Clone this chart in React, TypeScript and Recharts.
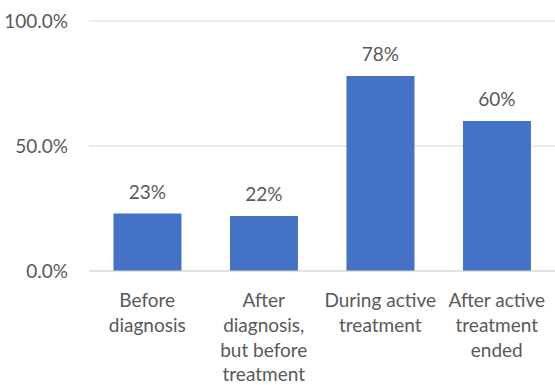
import React from "react";
import { BarChart, Bar, XAxis, YAxis, CartesianGrid, LabelList } from "recharts";

const categories = [
  "Before\ndiagnosis",
  "After\ndiagnosis,\nbut before\ntreatment",
  "During active\ntreatment",
  "After active\ntreatment\nended",
];
const values = [23, 22, 78, 60];
const yTicks = [0, 50, 100];

const data = categories.map((c, i) => ({ name: c, value: values[i] }));

const FONT = "Lato, 'Open Sans', sans-serif";
const TEXT = "#595959";
const FS = 19;

const XTick = (props: any) => {
  const { x, y, payload } = props;
  const lines = String(payload.value).split("\n");
  return (
    <text x={x} y={y} textAnchor="middle" fill={TEXT} fontFamily={FONT} fontSize={FS}>
      {lines.map((l: string, i: number) => (
        <tspan key={i} x={x} dy={i === 0 ? 36 : 24.8}>
          {l}
        </tspan>
      ))}
    </text>
  );
};

export default function App() {
  return (
    <div style={{ position: "absolute", left: 0, top: 0, width: 555, height: 385, background: "#fff" }}>
      <BarChart
        width={555}
        height={385}
        data={data}
        margin={{ top: 21, right: 0, bottom: 0, left: 0 }}
        barCategoryGap="21%"
      >
        <CartesianGrid vertical={false} stroke="#d9d9d9" strokeWidth={1} />
        <XAxis
          dataKey="name"
          height={114}
          axisLine={{ stroke: "#d9d9d9" }}
          tickLine={false}
          tickSize={0}
          tickMargin={0}
          interval={0}
          tick={<XTick />}
        />
        <YAxis
          width={89}
          domain={[0, 100]}
          ticks={yTicks}
          axisLine={false}
          tickLine={false}
          tickSize={0}
          tickMargin={21}
          tickFormatter={(v: number) => `${v.toFixed(1)}%`}
          tick={{ fill: TEXT, fontFamily: FONT, fontSize: FS }}
        />
        <Bar dataKey="value" fill="#4472C4" isAnimationActive={false}>
          <LabelList
            dataKey="value"
            position="top"
            offset={15}
            formatter={(v: any) => `${v}%`}
            fill={TEXT}
            fontFamily={FONT}
            fontSize={FS}
          />
        </Bar>
      </BarChart>
    </div>
  );
}
